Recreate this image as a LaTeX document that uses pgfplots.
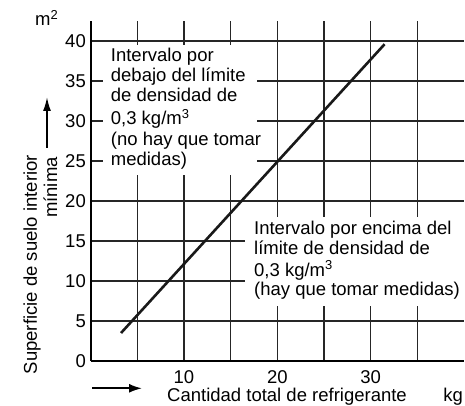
\documentclass[border=0pt]{standalone}
\usepackage{fontspec}
\setmainfont{Liberation Sans}
\usepackage{pgfplots}
\pgfplotsset{compat=1.18}
\usetikzlibrary{arrows.meta}
\newcommand{\f}{\fontsize{18.5bp}{20bp}\selectfont}

\begin{document}
\begin{tikzpicture}[font=\f]
\begin{axis}[
  at={(0,0)}, anchor=south west,
  scale only axis, width=373.2bp, height=340bp,
  xmin=0, xmax=40, ymin=0, ymax=42.5,
  axis lines*=left,
  axis line style={line width=1.8bp, black},
  xtick={5,10,...,35}, xticklabels={,10,,20,,30,},
  ytick={0,5,...,40},
  grid=major,
  major grid style={line width=1.1bp, black!85},
  tick style={draw=none},
  /pgf/number format/assume math mode=true,
  tick label style={font=\f},
  yticklabel style={inner sep=0pt, xshift=-4.7bp},
  xticklabel style={inner sep=0pt, yshift=-9bp},
]
\addplot[line width=2.6bp, black!90] coordinates {(3.25,3.5) (31.5,39.6)};

\fill[white] (axis cs:1.32,23.25) rectangle (axis cs:17.8,39.5);
\fill[white] (axis cs:16.55,6.875) rectangle (axis cs:40.5,18.0);

\node[anchor=base west, inner sep=0pt] at (axis cs:2.144,37.41) {Intervalo por};
\node[anchor=base west, inner sep=0pt] at (axis cs:2.144,34.91) {debajo del límite};
\node[anchor=base west, inner sep=0pt] at (axis cs:2.144,32.41) {de densidad de};
\node[anchor=base west, inner sep=0pt] at (axis cs:2.144,29.5) {0,3 kg/m\textsuperscript{3}};
\node[anchor=base west, inner sep=0pt] at (axis cs:2.144,26.91) {(no hay que tomar};
\node[anchor=base west, inner sep=0pt] at (axis cs:2.144,24.41) {medidas)};

\node[anchor=base west, inner sep=0pt] at (axis cs:17.5,15.75) {Intervalo por encima del};
\node[anchor=base west, inner sep=0pt] at (axis cs:17.5,13.25) {límite de densidad de};
\node[anchor=base west, inner sep=0pt] at (axis cs:17.5,10.625) {0,3 kg/m\textsuperscript{3}};
\node[anchor=base west, inner sep=0pt] at (axis cs:17.5,8.25) {(hay que tomar medidas)};
\end{axis}

\node[anchor=base west, inner sep=0pt] at (-55.7bp,335bp) {m\textsuperscript{2}};
\node[rotate=90, anchor=base east, inner sep=0pt] at (-53.7bp,206bp) {Superficie de suelo interior};
\node[rotate=90, anchor=base east, inner sep=0pt] at (-33.7bp,204bp) {mínima};
\draw[line width=1.8bp, -{Latex[length=14bp,width=8bp]}] (-43.7bp,213bp) -- (-43.7bp,264bp);
\draw[line width=1.8bp, -{Latex[length=13bp,width=9bp]}] (1.3bp,-27.3bp) -- (51.3bp,-27.3bp);
\node[anchor=base west, inner sep=0pt] at (76.3bp,-40.5bp) {Cantidad total de refrigerante};
\node[anchor=base west, inner sep=0pt] at (352.5bp,-40.5bp) {kg};

\pgfresetboundingbox
\useasboundingbox (-90.7bp,-45bp) rectangle (374.3bp,361bp);
\end{tikzpicture}
\end{document}
